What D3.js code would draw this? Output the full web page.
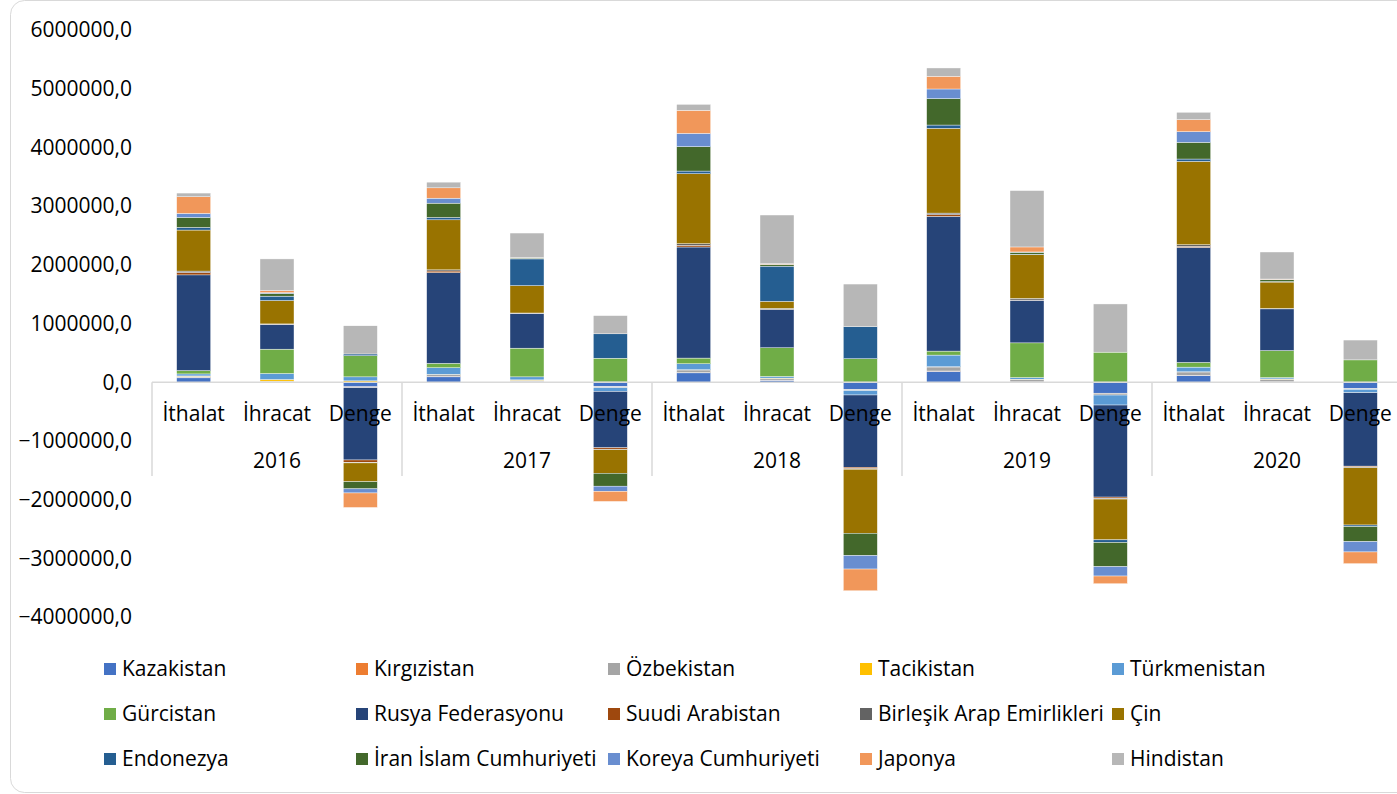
<!DOCTYPE html>
<html>
<head>
<meta charset="utf-8">
<script src="https://cdn.jsdelivr.net/npm/d3@7"></script>
<style>
  body { margin: 0; background: #fff; }
  text { font-family: "Open Sans", sans-serif; fill: #000; }
</style>
</head>
<body>
<div id="chart"></div>
<script>
// categories
const years = ["2016", "2017", "2018", "2019", "2020"];
const kinds = ["İthalat", "İhracat", "Denge"];
const yTicks = [-4000000, -3000000, -2000000, -1000000, 0, 1000000, 2000000, 3000000, 4000000, 5000000, 6000000];

const countries = ["Kazakistan", "Kırgızistan", "Özbekistan", "Tacikistan", "Türkmenistan",
  "Gürcistan", "Rusya Federasyonu", "Suudi Arabistan", "Birleşik Arap Emirlikleri", "Çin",
  "Endonezya", "İran İslam Cumhuriyeti", "Koreya Cumhuriyeti", "Japonya", "Hindistan"];
const colors = ["#4472C4", "#ED7D31", "#A5A5A5", "#FFC000", "#5B9BD5",
  "#70AD47", "#264478", "#9E480E", "#636363", "#997300",
  "#255E91", "#43682B", "#698ED0", "#F1975A", "#B7B7B7"];

// values per country, order: 2016 İth, İhr, Denge, 2017 İth, İhr, Denge, ... 2020
const kazakistan   = [74000, 5000, -80000,   91000, 15000, -76000,   159000, 34000, -125000,   187000, 3000, -187000,   114000, 4000, -108000];
const kirgizistan  = [5000, 3000, -2000,     4000, 2000, -2000,      4000, 2000, -2000,        4000, 2000, -2000,       3000, 2000, -1000];
const ozbekistan   = [23000, 10000, -13000,  34000, 15000, -17000,   45000, 28000, -17000,     68000, 40000, -30000,    57000, 45000, -14000];
const tacikistan   = [5000, 28000, 23000,    4000, 8000, 4000,       4000, 6000, 2000,         4000, 6000, 2000,        3000, 5000, 2000];
const turkmenistan = [34000, 102000, 68000,  114000, 51000, -63000,  102000, 28000, -74000,    199000, 28000, -170000,  80000, 23000, -57000];
const gurcistan    = [57000, 415000, 360000, 74000, 489000, 405000,  97000, 489000, 398000,    68000, 591000, 510000,   80000, 460000, 378000];
const rusya        = [1630000, 420000, -1230000, 1545000, 591000, -960000, 1892000, 648000, -1230000, 2295000, 727000, -1568000, 1960000, 710000, -1250000];
const suudi        = [40000, 5000, -40000,   28000, 3000, -23000,    28000, 3000, -25000,      28000, 3000, -20000,     17000, 3000, -15000];
const bae          = [25000, 5000, -10000,   20000, 5000, -10000,    28000, 20000, -10000,     28000, 28000, -14000,    28000, 5000, -13000];
const cin          = [699000, 398000, -320000, 852000, 466000, -400000, 1193000, 119000, -1090000, 1443000, 744000, -695000, 1420000, 449000, -975000];
const endonezya    = [45000, 75000, 30000,   40000, 455000, 415000,  45000, 600000, 545000,    57000, 8000, -45000,     40000, 8000, -28000];
const iran         = [170000, 45000, -122000, 244000, 15000, -220000, 415000, 28000, -380000,  449000, 34000, -412000,  284000, 34000, -255000];
const koreya       = [68000, 15000, -70000,  85000, 3000, -88000,    227000, 3000, -230000,    165000, 5000, -159000,   182000, 5000, -176000];
const japonya      = [284000, 34000, -247000, 176000, 3000, -172000, 392000, 10000, -370000,   216000, 85000, -131000,  205000, 5000, -199000];
const hindistan    = [63000, 540000, 480000, 97000, 420000, 310000,  102000, 830000, 727000,   142000, 960000, 821000,  125000, 460000, 338000];

const seriesValues = [kazakistan, kirgizistan, ozbekistan, tacikistan, turkmenistan,
  gurcistan, rusya, suudi, bae, cin, endonezya, iran, koreya, japonya, hindistan];

// build table for d3.stack
const keys = [];
years.forEach(y => kinds.forEach(k => keys.push(y + "|" + k)));
const table = keys.map((key, i) => {
  const row = {key: key};
  countries.forEach((c, j) => row[c] = seriesValues[j][i]);
  return row;
});

const width = 1397, height = 794;
const svg = d3.select("#chart").append("svg")
  .attr("width", width)
  .attr("height", height);

// chart border
svg.append("rect")
  .attr("x", 10.5).attr("y", 0.5)
  .attr("width", 1420).attr("height", 792)
  .attr("rx", 14)
  .attr("fill", "none")
  .attr("stroke", "#D9D9D9");

const y = d3.scaleLinear()
  .domain([-4000000, 6000000])
  .range([617, 30]);

const x = d3.scaleBand()
  .domain(keys)
  .range([152, 1402])
  .paddingInner(0.592)
  .paddingOuter(0.296);

const stack = d3.stack()
  .keys(countries)
  .offset(d3.stackOffsetDiverging);
const stacked = stack(table);

// y axis labels
const fmt = v => d3.format("d")(v) + ",0";
svg.append("g")
  .selectAll("text")
  .data(yTicks)
  .join("text")
    .attr("x", 132)
    .attr("y", d => y(d))
    .attr("dy", "0.35em")
    .attr("text-anchor", "end")
    .style("font-size", "21px")
    .text(d => fmt(d));

// bars
svg.append("g")
  .selectAll("g")
  .data(stacked)
  .join("g")
    .attr("fill", (d, i) => colors[i])
  .selectAll("rect")
  .data(d => d)
  .join("rect")
    .attr("x", d => x(d.data.key))
    .attr("width", x.bandwidth())
    .attr("y", d => y(Math.max(d[0], d[1])))
    .attr("height", d => Math.abs(y(d[0]) - y(d[1])))
    .attr("stroke", "#fff")
    .attr("stroke-width", 0.4);

// category axis
const axisG = svg.append("g");
axisG.append("line")
  .attr("x1", 152).attr("x2", 1402)
  .attr("y1", y(0)).attr("y2", y(0))
  .attr("stroke", "#D9D9D9")
  .attr("stroke-width", 1.5);

const yearX = d3.scaleBand().domain(years).range([152, 1402]);
axisG.selectAll(".sep")
  .data(years)
  .join("line")
    .attr("class", "sep")
    .attr("x1", d => yearX(d)).attr("x2", d => yearX(d))
    .attr("y1", y(0)).attr("y2", 476)
    .attr("stroke", "#D9D9D9")
    .attr("stroke-width", 1.5);

axisG.selectAll(".cat")
  .data(keys)
  .join("text")
    .attr("class", "cat")
    .attr("x", d => x(d) + x.bandwidth() / 2)
    .attr("y", 414)
    .attr("dy", "0.35em")
    .attr("text-anchor", "middle")
    .style("font-size", "21px")
    .text(d => d.split("|")[1]);

axisG.selectAll(".yr")
  .data(years)
  .join("text")
    .attr("class", "yr")
    .attr("x", d => yearX(d) + yearX.bandwidth() / 2)
    .attr("y", 461)
    .attr("dy", "0.35em")
    .attr("text-anchor", "middle")
    .style("font-size", "21px")
    .text(d => d);

// legend
const legend = svg.append("g")
  .selectAll("g")
  .data(countries)
  .join("g")
    .attr("transform", (d, i) => `translate(${122 + (i % 5) * 252}, ${669 + Math.floor(i / 5) * 45})`);
legend.append("rect")
  .attr("x", -18).attr("y", -6)
  .attr("width", 12).attr("height", 12)
  .attr("fill", (d, i) => colors[i]);
legend.append("text")
  .attr("x", 0)
  .attr("dy", "0.35em")
  .style("font-size", "21px")
  .text(d => d);
</script>
</body>
</html>
